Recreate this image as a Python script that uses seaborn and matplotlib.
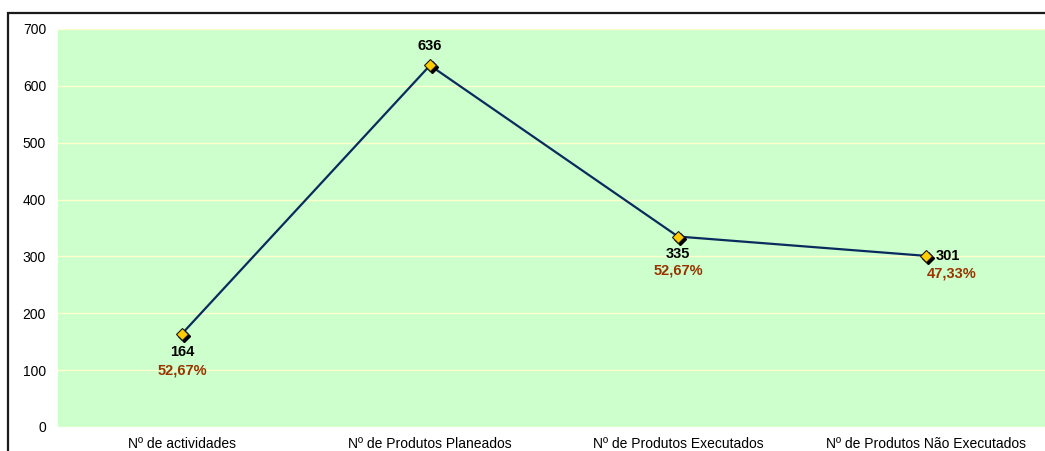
import matplotlib
matplotlib.use("Agg")
import matplotlib.pyplot as plt
import seaborn as sns
import pandas as pd
from matplotlib.patches import Rectangle
from matplotlib.transforms import offset_copy

categories = ["Nº de actividades", "Nº de Produtos Planeados",
              "Nº de Produtos Executados", "Nº de Produtos Não Executados"]
values = [164, 636, 335, 301]
percent_labels = ["52,67%", None, "52,67%", "47,33%"]
y_ticks = [0, 100, 200, 300, 400, 500, 600, 700]

sns.set_theme(style="white")
plt.rcParams["font.family"] = ["Liberation Sans", "DejaVu Sans"]

W, H = 1045, 451
fig = plt.figure(figsize=(W / 100, H / 100), dpi=100)
fig.patch.set_facecolor("white")

# outer chart frame (left and top edges visible)
fig.add_artist(Rectangle((8 / W, -0.1), 1.2, (H - 13) / H + 0.1, transform=fig.transFigure,
                         fill=False, edgecolor="#1a1a1a", linewidth=1.6, clip_on=False))

ax = fig.add_axes([58 / W, 24 / H, 992 / W, 398 / H])
ax.set_facecolor("#CCFFCC")

x = list(range(len(categories)))

sns.lineplot(x=x, y=values, ax=ax, color="#0B2A5E", linewidth=1.6, zorder=2)

# diamond markers with a dark drop shadow
shadow_tr = offset_copy(ax.transData, fig=fig, x=2, y=-2, units="dots")
ax.plot(x, values, linestyle="none", marker="D", markersize=6, color="black",
        transform=shadow_tr, zorder=3)
ax.plot(x, values, linestyle="none", marker="D", markersize=6,
        markerfacecolor="#FFCC00", markeredgecolor="#1a1a1a", markeredgewidth=0.8, zorder=4)

# value and percentage labels
value_offsets = [(0, -18), (0, 19), (0, -17), (22, 0)]
pct_offsets = [(0, -37), None, (0, -34), (26, -18)]
for i, (v, p) in enumerate(zip(values, percent_labels)):
    dx, dy = value_offsets[i]
    ax.annotate(str(v), (i, v), xytext=(dx, dy), textcoords="offset pixels",
                ha="center", va="center", fontsize=10.5, fontweight="bold", color="black")
    if p:
        dx, dy = pct_offsets[i]
        ax.annotate(p, (i, v), xytext=(dx, dy), textcoords="offset pixels",
                    ha="center", va="center", fontsize=10.5, fontweight="bold", color="#993300")

ax.set_xlim(-0.5, 3.5)
ax.set_ylim(0, 700)
ax.set_yticks(y_ticks)
ax.set_xticks(x)
ax.set_xticklabels(categories)
ax.grid(axis="y", color="#FFFFCC", linewidth=1.0)
ax.grid(axis="x", visible=False)
ax.set_axisbelow(True)
for s in ax.spines.values():
    s.set_visible(False)

ax.tick_params(axis="y", length=0, pad=8.6, labelsize=10, colors="black")
ax.tick_params(axis="x", length=3, width=6, color="#CCFFFF", pad=4, labelsize=10, labelcolor="black")

ax.set_xlabel("")
ax.set_ylabel("")

fig.savefig("out.png", dpi=100)
